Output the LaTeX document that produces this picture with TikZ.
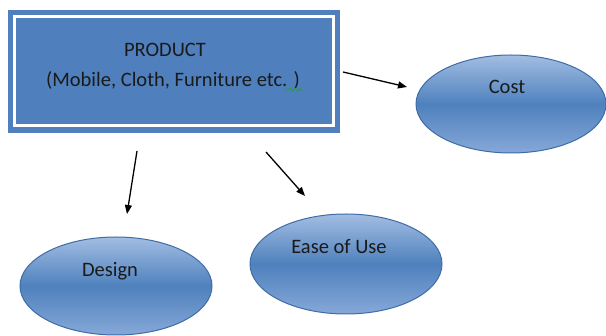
\documentclass[tikz,border=0pt]{standalone}
\usepackage{fontspec}
\setmainfont{Carlito}
\usetikzlibrary{arrows.meta,shapes.geometric}
\definecolor{officeblue}{HTML}{4F81BD}
\definecolor{boxblue}{HTML}{4F80BD}
\definecolor{ellborder}{HTML}{3E6CA6}
\definecolor{elltop}{HTML}{A2BDE2}
\definecolor{ellbot}{HTML}{86A8D8}
\definecolor{txt}{HTML}{1A1A1A}
\definecolor{squig}{HTML}{2E9B3E}
\tikzset{
  ellbox/.style={ellipse, draw=ellborder, line width=1pt,
    top color=elltop, bottom color=ellbot, middle color=officeblue,
    minimum width=#1, text=txt},
  lbl/.style={font=\fontsize{20.5}{24}\selectfont, text=txt, inner sep=0pt},
  arr/.style={-{Triangle[length=9pt,width=7pt]}, line width=1.3pt, black}
}
\begin{document}
\begin{tikzpicture}[x=1pt,y=-1pt]
\useasboundingbox (0,0) rectangle (606,336);
% product box
\fill[boxblue] (8,10) rectangle (340,133);
\draw[white, line width=3pt] (14.5,16.5) rectangle (333,126);
\node[lbl] (prod) at (165,50) {PRODUCT};
\node[lbl] (prod2) at (173,80) {(Mobile, Cloth, Furniture etc. )};
\draw[squig, line width=0.8pt] (285,88) -- (287.5,91) -- (290,88) -- (292.5,91) -- (295,88) -- (297.5,91) -- (300,88) -- (302,91);
% ellipses
\node[ellipse, draw=ellborder, line width=1pt, top color=elltop, bottom color=ellbot, middle color=officeblue,
  minimum width=190pt, minimum height=98pt, inner sep=0pt] (cost) at (511,104) {};
\node[lbl] (costt) at (507,87) {Cost};
\node[ellipse, draw=ellborder, line width=1pt, top color=elltop, bottom color=ellbot, middle color=officeblue,
  minimum width=192pt, minimum height=98pt, inner sep=0pt] (design) at (116,286) {};
\node[lbl] (designt) at (110,271) {Design};
\node[ellipse, draw=ellborder, line width=1pt, top color=elltop, bottom color=ellbot, middle color=officeblue,
  minimum width=192pt, minimum height=100pt, inner sep=0pt] (ease) at (346,264) {};
\node[lbl] (easet) at (339,247) {Ease of Use};
% arrows
\coordinate (a1s) at (137,151);
\coordinate (a1e) at (127,214);
\coordinate (a2s) at (266,152);
\coordinate (a2e) at (305,196);
\coordinate (a3s) at (343,72);
\coordinate (a3e) at (407,87);
\draw[arr] (a1s) -- (a1e);
\draw[arr] (a2s) -- (a2e);
\draw[arr] (a3s) -- (a3e);
\end{tikzpicture}
\end{document}
